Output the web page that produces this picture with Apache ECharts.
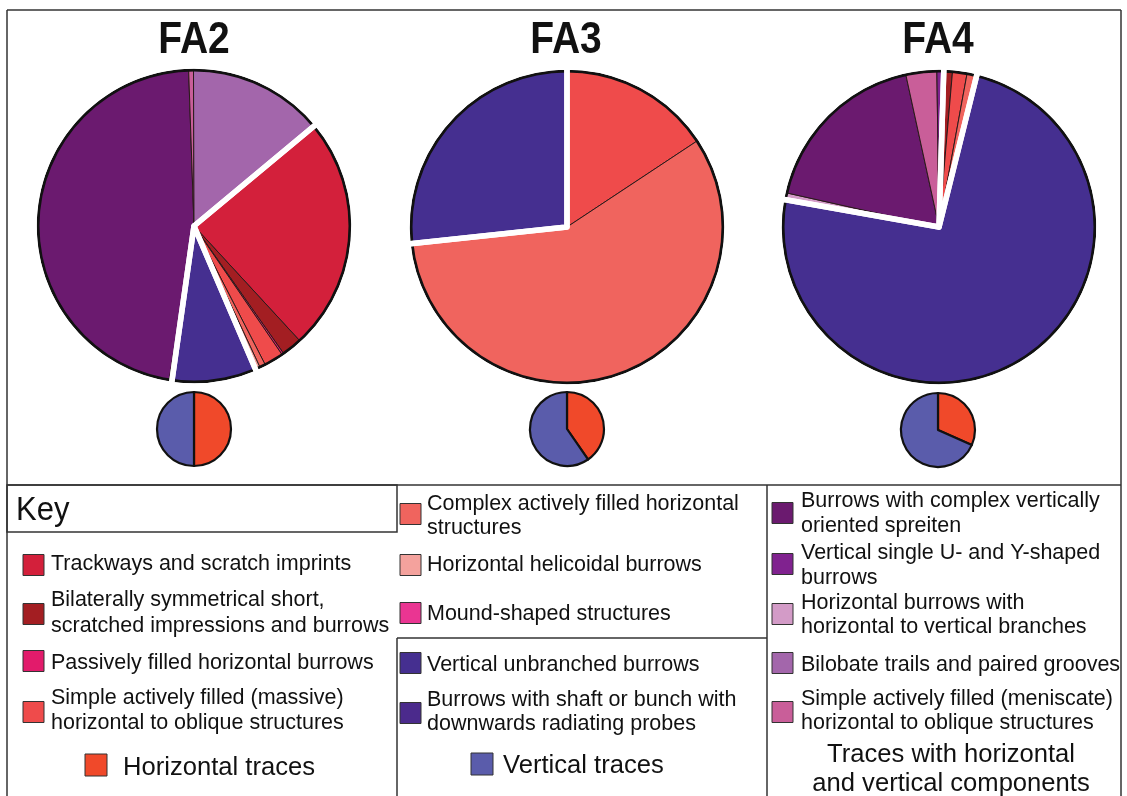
<!DOCTYPE html>
<html><head><meta charset="utf-8">
<script src="https://cdn.jsdelivr.net/npm/echarts@6/dist/echarts.min.js"></script>
<style>html,body{margin:0;padding:0;background:#fff}#c{width:1127px;height:796px}</style>
</head><body><div id="c"></div>
<script>
// ---------------- DATA ----------------
const assemblages = ['FA2', 'FA3', 'FA4'];
const categories = [
  'Trackways and scratch imprints',                                      // 0
  'Bilaterally symmetrical short,\nscratched impressions and burrows',   // 1
  'Passively filled horizontal burrows',                                 // 2
  'Simple actively filled (massive)\nhorizontal to oblique structures',  // 3
  'Complex actively filled horizontal\nstructures',                      // 4
  'Horizontal helicoidal burrows',                                       // 5
  'Mound-shaped structures',                                             // 6
  'Vertical unbranched burrows',                                         // 7
  'Burrows with shaft or bunch with\ndownwards radiating probes',        // 8
  'Burrows with complex vertically\noriented spreiten',                  // 9
  'Vertical single U- and Y-shaped\nburrows',                            // 10
  'Horizontal burrows with\nhorizontal to vertical branches',            // 11
  'Bilobate trails and paired grooves',                                  // 12
  'Simple actively filled (meniscate)\nhorizontal to oblique structures' // 13
];
const categoryGroup = ['H','H','H','H','H','H','H','V','V','M','M','M','M','M'];
const summaryNames = ['Horizontal traces', 'Vertical traces', 'Traces with horizontal\nand vertical components'];

// slices in clockwise order (category index) and their share (%)
const fa2Slices = [11, 9, 13, 12, 0, 1, 2, 3, 4, 5, 7];
const fa2Values = [0.3, 46.9, 0.5, 14.0, 24.2, 2.1, 0.2, 2.0, 0.6, 0.5, 8.7];
const fa3Slices = [3, 4, 7];
const fa3Values = [15.7, 57.6, 26.7];
const fa4Slices = [11, 9, 13, 10, 1, 3, 4, 7];
const fa4Values = [0.7, 18.1, 3.2, 0.7, 0.9, 1.5, 1.0, 74.0];

// summary pies (horizontal vs vertical traces, %)
const summaryHorizontal = [50.0, 40.4, 31.7];
const summaryVertical = [50.0, 59.6, 68.3];

// ---------------- STYLE ----------------
const catColors = ['#d3203b','#a31e22','#e21b6b','#ef4b4b','#f0645e','#f4a29d','#ea3592',
                   '#452f90','#4b2a8c','#6b1a6f','#80228f','#d39bc7','#a366ab','#c95e99'];
const summaryColors = ['#f0492a', '#5a5cab'];
const FONT = '"Liberation Sans", Arial, Helvetica, sans-serif';
const LINE = '#333';

const bigCenters = [[194, 226], [567, 227], [939, 227]];
const startAngles = [-98.1, 90, -190.1];
const R = 156;
const smallCenters = [[194, 429], [567, 429], [938, 430]];
const smallR = 37;

const sliceSets = [[fa2Slices, fa2Values], [fa3Slices, fa3Values], [fa4Slices, fa4Values]];

function basePie(extra) {
  return Object.assign({
    type: 'pie', clockwise: true, silent: true, animation: false,
    avoidLabelOverlap: false, minAngle: 0,
    label: { show: false }, labelLine: { show: false },
    emphasis: { disabled: true }
  }, extra);
}

const series = [];
sliceSets.forEach(([slices, values], k) => {
  const data = values.map((v, i) => ({
    name: categories[slices[i]].replace('\n', ' '), value: v,
    itemStyle: { color: catColors[slices[i]] }
  }));
  // detailed slices
  series.push(basePie({
    center: bigCenters[k], radius: R, startAngle: startAngles[k], z: 2, data,
    itemStyle: { borderColor: '#2a1a1a', borderWidth: 1 }
  }));
  // outer black outline
  series.push(basePie({
    center: bigCenters[k], radius: [R - 1.5, R + 1.5], z: 3,
    data: [{ value: 1, itemStyle: { color: '#111' } }], itemStyle: { borderWidth: 0 }
  }));
  // white separators between the three trace groups
  const groups = [];
  slices.forEach((c, i) => {
    const g = categoryGroup[c];
    if (groups.length && groups[groups.length - 1].g === g) groups[groups.length - 1].value += values[i];
    else groups.push({ g, value: values[i] });
  });
  series.push(basePie({
    center: bigCenters[k], radius: R + 4, startAngle: startAngles[k], z: 4,
    data: groups.map(o => ({ name: o.g, value: o.value })),
    itemStyle: { color: 'rgba(0,0,0,0)', borderColor: '#fff', borderWidth: 5.5, borderJoin: 'round' }
  }));
  // summary pie
  series.push(basePie({
    center: smallCenters[k], radius: smallR, startAngle: 90, z: 2,
    data: [
      { name: summaryNames[0], value: summaryHorizontal[k], itemStyle: { color: summaryColors[0] } },
      { name: summaryNames[1], value: summaryVertical[k], itemStyle: { color: summaryColors[1] } }
    ],
    itemStyle: { borderColor: '#111', borderWidth: 2.2 }
  }));
});

// ---------------- GRAPHICS (frame, titles, key) ----------------
const els = [];
const stroke = { stroke: LINE, lineWidth: 1.5, fill: 'none' };
[[7,10,1121,10],[7,10,7,796],[1121,10,1121,796],[7,485,1121,485],
 [397,638,767,638],[397,638,397,796],[767,485,767,796]].forEach(s =>
  els.push({ type: 'line', silent: true, shape: { x1: s[0], y1: s[1], x2: s[2], y2: s[3] }, style: stroke }));
els.push({ type: 'rect', silent: true, shape: { x: 7, y: 485, width: 390, height: 47 }, style: stroke });

// titles
const titleX = [194, 566, 938];
assemblages.forEach((t, k) => els.push({
  type: 'text', x: titleX[k], y: 41, scaleY: 1.14, silent: true,
  style: { text: t, x: 0, y: 0, align: 'center', verticalAlign: 'middle', font: 'bold 39px ' + FONT, fill: '#111' }
}));

els.push({ type: 'text', x: 16, y: 511, silent: true, scaleY: 1.06,
  style: { text: 'Key', x: 0, y: 0, align: 'left', verticalAlign: 'middle', font: '31px ' + FONT, fill: '#111' } });

// key entries: [swatchX, swatchCenterY, textX, textCenterY, lineHeight]
const keyLayout = [
  [23, 565, 51, 564.5, 25], [23, 614, 51, 613.5, 26], [23, 661, 51, 663.5, 25], [23, 712, 51, 711, 25],
  [400, 514, 427, 516.5, 24], [400, 565, 427, 565, 24], [400, 613, 427, 614.5, 24], [400, 663, 427, 665.5, 24], [400, 713, 427, 712.5, 24],
  [772, 513, 801, 514, 25], [772, 564, 801, 566, 25], [772, 614, 801, 615.5, 24], [772, 663, 801, 665, 24], [772, 712, 801, 711.5, 24]
];
categories.forEach((name, i) => {
  const L = keyLayout[i];
  els.push({ type: 'rect', silent: true, shape: { x: L[0], y: L[1] - 10.5, width: 21, height: 21 },
    style: { fill: catColors[i], stroke: '#333', lineWidth: 1 } });
  els.push({ type: 'text', silent: true, x: L[2], y: L[3],
    style: { text: name, align: 'left', verticalAlign: 'middle', font: '21.5px ' + FONT, lineHeight: L[4], fill: '#111' } });
});
// summary keys
const sumLayout = [[85, 765, 123, 768], [471, 764, 503, 766]];
sumLayout.forEach((L, i) => {
  els.push({ type: 'rect', silent: true, shape: { x: L[0], y: L[1] - 11, width: 22, height: 22 },
    style: { fill: summaryColors[i], stroke: '#333', lineWidth: 1 } });
  els.push({ type: 'text', silent: true, x: L[2], y: L[3],
    style: { text: summaryNames[i], align: 'left', verticalAlign: 'middle', font: '25.6px ' + FONT, fill: '#111' } });
});
els.push({ type: 'text', silent: true, x: 951, y: 769,
  style: { text: summaryNames[2], align: 'center', verticalAlign: 'middle', font: '25.6px ' + FONT, lineHeight: 29, fill: '#111' } });

const chart = echarts.init(document.getElementById('c'), null, { renderer: 'canvas' });
chart.setOption({ animation: false, backgroundColor: '#fff', series, graphic: { elements: els } });
</script>
</body></html>
